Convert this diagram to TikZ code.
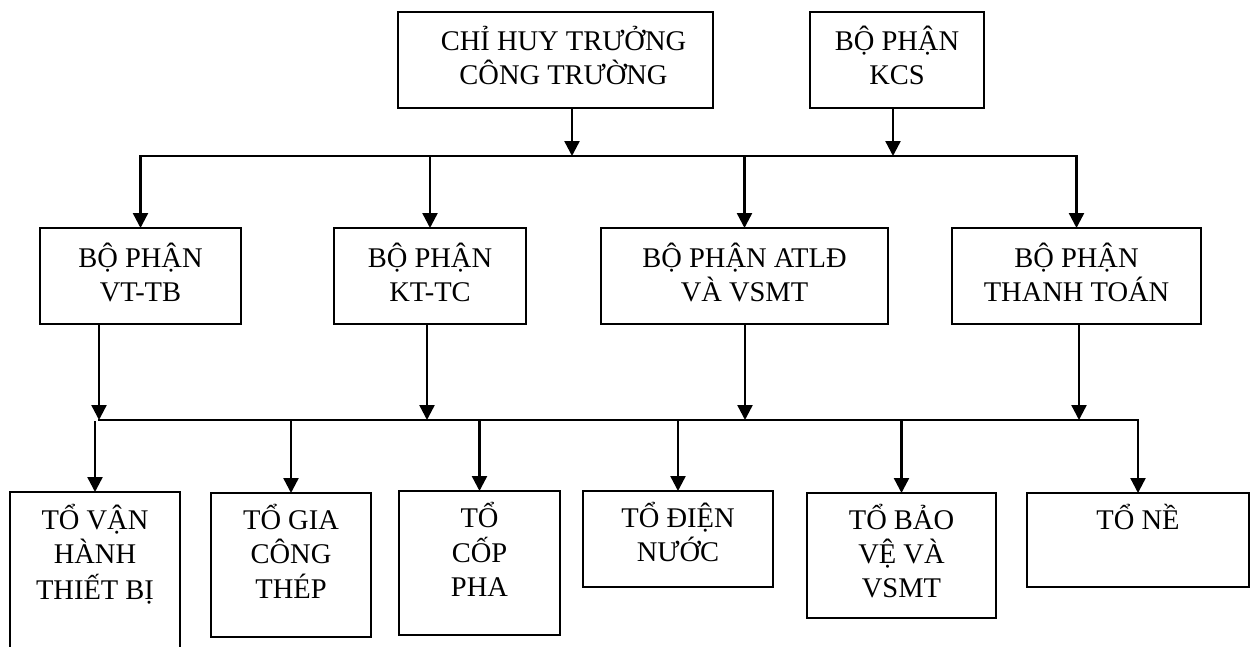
\documentclass[tikz,border=0pt]{standalone}
\usepackage{fontspec}
\setmainfont{Liberation Serif}
\usetikzlibrary{arrows.meta}
\newcommand{\mlines}[1]{\begin{tabular}[t]{@{}c@{}}#1\end{tabular}}
\begin{document}
\begin{tikzpicture}[x=1pt,y=-1pt,
  box/.style={draw, line width=2.2pt, anchor=north west, inner sep=0pt, outer sep=0pt},
  txt/.style={anchor=base, inner sep=0pt, font=\fontsize{28.5}{34}\selectfont},
  arr/.style={line width=2.4pt, -{Triangle[length=15pt,width=15pt]}},
  ln/.style={line width=2.4pt, line cap=rect}]
\useasboundingbox (0,0) rectangle (1253,646);
\clip (0,0) rectangle (1253,646);
% boxes
\node[box, minimum width=315pt, minimum height=96pt] (cht) at (398,12) {};
\node[box, minimum width=174pt, minimum height=96pt] (kcs) at (810,12) {};
\node[box, minimum width=201pt, minimum height=96pt] (vt) at (40,228) {};
\node[box, minimum width=192pt, minimum height=96pt] (kt) at (334,228) {};
\node[box, minimum width=287pt, minimum height=96pt] (at) at (601,228) {};
\node[box, minimum width=249pt, minimum height=96pt] (tt) at (952,228) {};
\node[box, minimum width=170pt, minimum height=190pt] (vh) at (10,492) {};
\node[box, minimum width=160pt, minimum height=144pt] (gc) at (211,493) {};
\node[box, minimum width=161pt, minimum height=144pt] (cp) at (399,491) {};
\node[box, minimum width=190pt, minimum height=96pt] (dn) at (583,491) {};
\node[box, minimum width=189pt, minimum height=125pt] (bv) at (807,493) {};
\node[box, minimum width=222pt, minimum height=94pt] (ne) at (1027,493) {};
% texts
\node[txt] (chtT) at ([xshift=8pt,yshift=-38pt]cht.north) {\mlines{CHỈ HUY TRƯỞNG\\CÔNG TRƯỜNG}};
\node[txt] (kcsT) at ([yshift=-38pt]kcs.north) {\mlines{BỘ PHẬN\\KCS}};
\node[txt] (vtT) at ([yshift=-39pt]vt.north) {\mlines{BỘ PHẬN\\VT-TB}};
\node[txt] (ktT) at ([yshift=-39pt]kt.north) {\mlines{BỘ PHẬN\\KT-TC}};
\node[txt] (atT) at ([yshift=-39pt]at.north) {\mlines{BỘ PHẬN ATLĐ\\VÀ VSMT}};
\node[txt] (ttT) at ([yshift=-39pt]tt.north) {\mlines{BỘ PHẬN\\THANH TOÁN}};
\node[txt] (vhT) at ([yshift=-37pt]vh.north) {\mlines{TỔ VẬN\\HÀNH\\THIẾT BỊ}};
\node[txt] (gcT) at ([yshift=-36pt]gc.north) {\mlines{TỔ GIA\\CÔNG\\THÉP}};
\node[txt] (cpT) at ([yshift=-36pt]cp.north) {\mlines{TỔ\\CỐP\\PHA}};
\node[txt] (dnT) at ([yshift=-36pt]dn.north) {\mlines{TỔ ĐIỆN\\NƯỚC}};
\node[txt] (bvT) at ([yshift=-36pt]bv.north) {\mlines{TỔ BẢO\\VỆ VÀ\\VSMT}};
\node[txt] (neT) at ([yshift=-36pt]ne.north) {\mlines{TỔ NỀ}};
% upper connectors
\coordinate (b1) at (0,156);
\coordinate (j1) at (572,156);
\coordinate (j2) at (893,156);
\draw[arr] (cht.south -| j1) -- (j1);
\draw[arr] (kcs.south -| j2) -- (j2);
\draw[ln] (vt.north |- b1) -- (tt.north |- b1);
\draw[arr] (vt.north |- b1) -- (vt.north);
\draw[arr] (kt.north |- b1) -- (kt.north);
\draw[arr] (at.north |- b1) -- (at.north);
\draw[arr] (tt.north |- b1) -- (tt.north);
% lower connectors
\coordinate (b2) at (0,420);
\coordinate (s1) at (99,420);
\coordinate (s2) at (427,420);
\coordinate (s3) at (745,420);
\coordinate (s4) at (1079,420);
\draw[arr] (vt.south -| s1) -- (s1);
\draw[arr] (kt.south -| s2) -- (s2);
\draw[arr] (at.south -| s3) -- (s3);
\draw[arr] (tt.south -| s4) -- (s4);
\draw[ln] (s1) -- (ne.north |- b2);
\draw[arr] ([yshift=-1pt]vh.north |- b2) -- (vh.north);
\draw[arr] (gc.north |- b2) -- (gc.north);
\draw[arr] (cp.north |- b2) -- (cp.north);
\draw[arr] (dn.north |- b2) -- (dn.north);
\draw[arr] (bv.north |- b2) -- (bv.north);
\draw[arr] (ne.north |- b2) -- (ne.north);
\end{tikzpicture}
\end{document}
